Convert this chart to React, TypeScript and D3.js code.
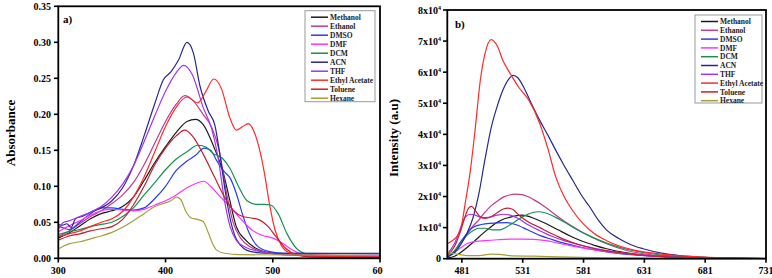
import React from 'react';
import * as d3 from 'd3';

type P = [number, number];

const seriesNames = ['Methanol', 'Ethanol', 'DMSO', 'DMF', 'DCM', 'ACN', 'THF', 'Ethyl Acetate', 'Toluene', 'Hexane'];
const seriesColors = ['#1a1a1a', '#c23a8e', '#2a3cf0', '#ff33ff', '#13934f', '#27278f', '#a433f0', '#ff2a2a', '#c42033', '#a4a038'];

// ---- Panel a) absorbance (nm, absorbance)
const absMethanol: P[] = [[300,0.028],[310,0.035],[320,0.045],[330,0.055],[340,0.062],[350,0.066],[360,0.072],[370,0.085],[380,0.108],[390,0.133],[400,0.155],[410,0.175],[420,0.19],[428,0.193],[435,0.186],[445,0.155],[454,0.118],[460,0.08],[466,0.044],[475,0.025],[482,0.016],[495,0.008],[510,0.005],[600,0.003]];
const absEthanol: P[] = [[300,0.03],[310,0.038],[320,0.048],[330,0.058],[340,0.066],[350,0.076],[360,0.088],[370,0.105],[380,0.13],[390,0.16],[400,0.19],[410,0.214],[418,0.226],[425,0.22],[435,0.2],[443,0.182],[450,0.15],[457,0.09],[463,0.05],[470,0.028],[480,0.015],[495,0.008],[520,0.005],[600,0.003]];
const absDMSO: P[] = [[300,0.045],[305,0.042],[310,0.04],[320,0.05],[330,0.062],[340,0.07],[350,0.07],[360,0.068],[370,0.067],[380,0.07],[390,0.083],[400,0.1],[410,0.122],[420,0.135],[428,0.143],[436,0.153],[442,0.15],[448,0.135],[455,0.12],[460,0.112],[466,0.09],[472,0.06],[478,0.035],[485,0.018],[495,0.01],[510,0.007],[600,0.006]];
const absDMF: P[] = [[300,0.037],[310,0.045],[320,0.052],[330,0.06],[340,0.066],[350,0.068],[360,0.067],[370,0.066],[380,0.068],[390,0.074],[400,0.08],[410,0.088],[420,0.098],[430,0.105],[436,0.107],[442,0.1],[450,0.087],[460,0.072],[470,0.055],[480,0.04],[490,0.032],[500,0.028],[508,0.022],[518,0.012],[530,0.005],[600,0.003]];
const absDCM: P[] = [[300,0.033],[310,0.037],[320,0.04],[330,0.044],[340,0.047],[350,0.05],[360,0.058],[370,0.07],[380,0.088],[390,0.105],[400,0.123],[410,0.138],[420,0.148],[430,0.157],[437,0.155],[445,0.145],[453,0.139],[460,0.125],[468,0.1],[476,0.08],[485,0.075],[492,0.075],[498,0.074],[505,0.062],[513,0.035],[522,0.014],[532,0.006],[550,0.003],[600,0.002]];
const absACN: P[] = [[300,0.047],[304,0.046],[308,0.048],[312,0.043],[316,0.055],[322,0.058],[330,0.064],[340,0.07],[350,0.08],[360,0.098],[370,0.128],[380,0.17],[390,0.215],[398,0.248],[405,0.259],[412,0.275],[420,0.3],[426,0.285],[432,0.24],[440,0.204],[446,0.185],[451,0.141],[456,0.09],[461,0.05],[465,0.03],[470,0.018],[476,0.011],[485,0.008],[500,0.007],[600,0.007]];
const absTHF: P[] = [[300,0.04],[305,0.05],[310,0.052],[320,0.058],[330,0.064],[340,0.072],[350,0.085],[360,0.103],[370,0.128],[380,0.162],[390,0.198],[400,0.232],[410,0.258],[417,0.268],[425,0.255],[435,0.21],[443,0.18],[449,0.14],[455,0.08],[460,0.045],[466,0.025],[475,0.015],[490,0.009],[510,0.005],[600,0.003]];
const absEthylAcetate: P[] = [[300,0.03],[310,0.034],[320,0.038],[330,0.044],[340,0.05],[350,0.055],[360,0.065],[370,0.085],[380,0.113],[390,0.148],[400,0.183],[410,0.21],[420,0.224],[430,0.216],[437,0.23],[445,0.249],[452,0.236],[460,0.195],[466,0.178],[472,0.183],[477,0.187],[482,0.178],[487,0.155],[492,0.12],[497,0.075],[502,0.04],[508,0.018],[515,0.008],[530,0.003],[600,0.002]];
const absToluene: P[] = [[300,0.025],[310,0.031],[320,0.034],[330,0.038],[340,0.041],[350,0.044],[360,0.054],[370,0.074],[380,0.1],[390,0.13],[400,0.153],[410,0.17],[418,0.178],[425,0.17],[435,0.145],[445,0.115],[455,0.085],[463,0.067],[472,0.058],[480,0.056],[488,0.053],[495,0.045],[503,0.03],[512,0.014],[522,0.005],[535,0.002],[600,0.001]];
const absHexane: P[] = [[300,0.013],[305,0.017],[310,0.02],[320,0.023],[330,0.027],[340,0.031],[350,0.036],[360,0.043],[370,0.052],[380,0.062],[390,0.072],[400,0.077],[405,0.08],[410,0.085],[414,0.082],[419,0.065],[424,0.056],[430,0.054],[435,0.051],[440,0.035],[444,0.02],[448,0.011],[455,0.007],[470,0.005],[600,0.004]];

// ---- Panel b) emission intensity (nm, a.u.)
const emMethanol: P[] = [[469,200],[475,800],[480,2000],[485,3500],[490,5200],[495,7000],[500,8700],[505,10300],[510,11700],[515,12700],[520,13300],[525,13800],[530,14000],[535,13700],[540,13000],[550,11300],[560,9300],[570,7300],[580,5600],[590,4300],[600,3200],[615,2000],[630,1200],[650,600],[680,200],[700,100],[731,50]];
const emEthanol: P[] = [[469,500],[475,2500],[480,5000],[485,8000],[490,10500],[495,12500],[500,15000],[505,17000],[510,18500],[515,19800],[520,20500],[525,20800],[530,20600],[535,20000],[540,19000],[550,16500],[560,13500],[570,10800],[580,8500],[590,6500],[600,4800],[615,2800],[630,1600],[650,800],[670,400],[700,150],[731,50]];
const emDMSO: P[] = [[469,500],[475,2500],[480,5500],[485,8000],[490,10000],[495,10800],[500,11200],[510,11500],[518,11600],[525,11000],[535,9300],[545,7500],[555,6200],[565,5000],[580,3600],[600,2200],[620,1300],[650,600],[700,100],[731,50]];
const emDMF: P[] = [[469,800],[475,2000],[480,3500],[485,4800],[490,5400],[500,5800],[510,6100],[520,6300],[530,6300],[540,6200],[550,5800],[560,5000],[570,4200],[580,3500],[600,2300],[620,1500],[640,900],[670,400],[700,150],[731,50]];
const emDCM: P[] = [[469,500],[475,2500],[480,5000],[485,7500],[490,9000],[495,9800],[500,9800],[506,9300],[512,9300],[518,10300],[525,12000],[532,13700],[538,14700],[544,15100],[550,14700],[558,13300],[565,11800],[575,9500],[585,7500],[600,5000],[615,3200],[630,2000],[650,1000],[680,400],[700,200],[731,50]];
const emACN: P[] = [[469,500],[475,2000],[480,4500],[485,8000],[490,13000],[495,21000],[500,32000],[505,42000],[510,49000],[515,54500],[520,58000],[523,59000],[527,58200],[532,55000],[538,50000],[545,44500],[552,39500],[558,35000],[565,30000],[572,25300],[580,20000],[586,16700],[593,12500],[600,9200],[610,6500],[620,4500],[630,3200],[645,1800],[660,1000],[680,450],[700,200],[731,50]];
const emTHF: P[] = [[469,1500],[475,5000],[480,10000],[484,13500],[488,14300],[492,14000],[497,13200],[503,13300],[510,14000],[515,14300],[520,14100],[527,13000],[535,11000],[545,9000],[555,7200],[565,5800],[580,4200],[600,2600],[620,1500],[650,600],[700,100],[731,50]];
const emEthylAcetate: P[] = [[469,4800],[472,5500],[476,6800],[480,9500],[484,18500],[488,28500],[492,42000],[496,57000],[500,66000],[505,70500],[510,68500],[515,63500],[520,60000],[528,55000],[536,51000],[545,43500],[552,35000],[558,26500],[565,20000],[572,15500],[580,11500],[590,8000],[600,5800],[620,3000],[640,1700],[660,900],[680,500],[700,250],[731,100]];
const emToluene: P[] = [[469,1000],[475,4000],[480,9000],[484,14000],[487,16500],[489,16800],[492,15500],[496,13500],[500,13000],[505,13500],[510,14800],[515,16000],[519,16300],[523,15800],[528,14000],[535,12000],[545,10000],[555,8000],[565,6200],[575,4800],[590,3200],[600,2500],[620,1500],[640,800],[660,400],[700,100],[731,50]];
const emHexane: P[] = [[469,2000],[475,1600],[485,1000],[495,1000],[505,1500],[512,1400],[520,1000],[540,800],[570,500],[600,300],[650,150],[731,50]];

const absSeries = [absMethanol, absEthanol, absDMSO, absDMF, absDCM, absACN, absTHF, absEthylAcetate, absToluene, absHexane];
const emSeries = [emMethanol, emEthanol, emDMSO, emDMF, emDCM, emACN, emTHF, emEthylAcetate, emToluene, emHexane];

const absXTicks = [300, 400, 500, 600];
const absYTicks = [0, 0.05, 0.1, 0.15, 0.2, 0.25, 0.3, 0.35];
const emXTicks = [481, 531, 581, 631, 681, 731];
const emYTicks = [0, 1, 2, 3, 4, 5, 6, 7, 8];

const FONT = '"Liberation Serif", "Times New Roman", serif';

function Legend({ x, y, w, h, step }: { x: number; y: number; w: number; h: number; step: number }) {
  return (
    <g>
      <rect x={x} y={y} width={w} height={h} fill="#fff" stroke="#9a9a9a" strokeWidth={1} />
      {seriesNames.map((n, i) => {
        const yy = y + 6.5 + i * step;
        return (
          <g key={n}>
            <line x1={x + 6} x2={x + 23} y1={yy} y2={yy} stroke={seriesColors[i]} strokeWidth={1.5} />
            <text x={x + 25} y={yy + 2.6} fontSize={7.5} fontWeight="bold" fontFamily={FONT} fill="#222">{n}</text>
          </g>
        );
      })}
    </g>
  );
}

export default function App() {
  const xA = d3.scaleLinear().domain([300, 600]).range([58.3, 380]);
  const yA = d3.scaleLinear().domain([0, 0.35]).range([258.3, 6.3]);
  const xB = d3.scaleLinear().domain([469, 731]).range([447.3, 766]);
  const yB = d3.scaleLinear().domain([0, 80000]).range([258.7, 10]);

  const lineA = d3.line<P>().x(d => xA(d[0])).y(d => yA(d[1])).curve(d3.curveMonotoneX);
  const lineB = d3.line<P>().x(d => xB(d[0])).y(d => yB(d[1])).curve(d3.curveMonotoneX);

  return (
    <svg width={772} height={278} style={{ position: 'absolute', left: 0, top: 0, background: '#fff' }} fontFamily={FONT}>
      <defs>
        <clipPath id="clipA"><rect x={58.3} y={6.3} width={380 - 58.3} height={252} /></clipPath>
        <clipPath id="clipB"><rect x={447.3} y={10} width={766 - 447.3} height={248.7} /></clipPath>
        <clipPath id="clipLabels"><rect x={0} y={0} width={383} height={278} /></clipPath>
      </defs>

      {/* Panel a */}
      <g clipPath="url(#clipA)">
        {absSeries.map((s, i) => (
          <path key={i} d={lineA(s) || ''} fill="none" stroke={seriesColors[i]} strokeWidth={1.2} />
        ))}
      </g>
      <rect x={58.3} y={6.3} width={380 - 58.3} height={252} fill="none" stroke="#000" strokeWidth={1.8} />
      {absYTicks.map(t => (
        <g key={t}>
          <line x1={54} x2={58.3} y1={yA(t)} y2={yA(t)} stroke="#000" strokeWidth={1.6} />
          <text x={51} y={yA(t) + 3.5} textAnchor="end" fontSize={10} fontWeight="bold">{t.toFixed(2)}</text>
        </g>
      ))}
      <g clipPath="url(#clipLabels)">
        {absXTicks.map(t => (
          <g key={t}>
            <line x1={xA(t)} x2={xA(t)} y1={258.3} y2={262.5} stroke="#000" strokeWidth={1.6} />
            <text x={xA(t)} y={274} textAnchor="middle" fontSize={10} fontWeight="bold">{t}</text>
          </g>
        ))}
      </g>
      <text transform="translate(15,133) rotate(-90)" textAnchor="middle" fontSize={13} fontWeight="bold">Absorbance</text>
      <text x={63} y={23} fontSize={11} fontWeight="bold">a)</text>
      <Legend x={305} y={10.7} w={70} h={91} step={9} />

      {/* Panel b */}
      <g clipPath="url(#clipB)">
        {emSeries.map((s, i) => (
          <path key={i} d={lineB(s) || ''} fill="none" stroke={seriesColors[i]} strokeWidth={1.2} />
        ))}
      </g>
      <rect x={447.3} y={10} width={766 - 447.3} height={248.7} fill="none" stroke="#000" strokeWidth={1.8} />
      {emYTicks.map(t => (
        <g key={t}>
          <line x1={443} x2={447.3} y1={yB(t * 10000)} y2={yB(t * 10000)} stroke="#000" strokeWidth={1.6} />
          {t === 0 ? (
            <text x={441} y={yB(0) + 3.5} textAnchor="end" fontSize={10} fontWeight="bold">0</text>
          ) : (
            <text x={441} y={yB(t * 10000) + 3.5} textAnchor="end" fontSize={10} fontWeight="bold">
              {t}x10<tspan dy={-4} fontSize={6}>4</tspan>
            </text>
          )}
        </g>
      ))}
      {emXTicks.map(t => (
        <g key={t}>
          <line x1={xB(t)} x2={xB(t)} y1={258.7} y2={262.8} stroke="#000" strokeWidth={1.6} />
          <text x={xB(t)} y={274} textAnchor="middle" fontSize={10} fontWeight="bold">{t}</text>
        </g>
      ))}
      <text transform="translate(398,138) rotate(-90)" textAnchor="middle" fontSize={13} fontWeight="bold">Intensity (a.u)</text>
      <text x={455} y={28} fontSize={11} fontWeight="bold">b)</text>
      <Legend x={695} y={15} w={67} h={88} step={8.8} />
    </svg>
  );
}
